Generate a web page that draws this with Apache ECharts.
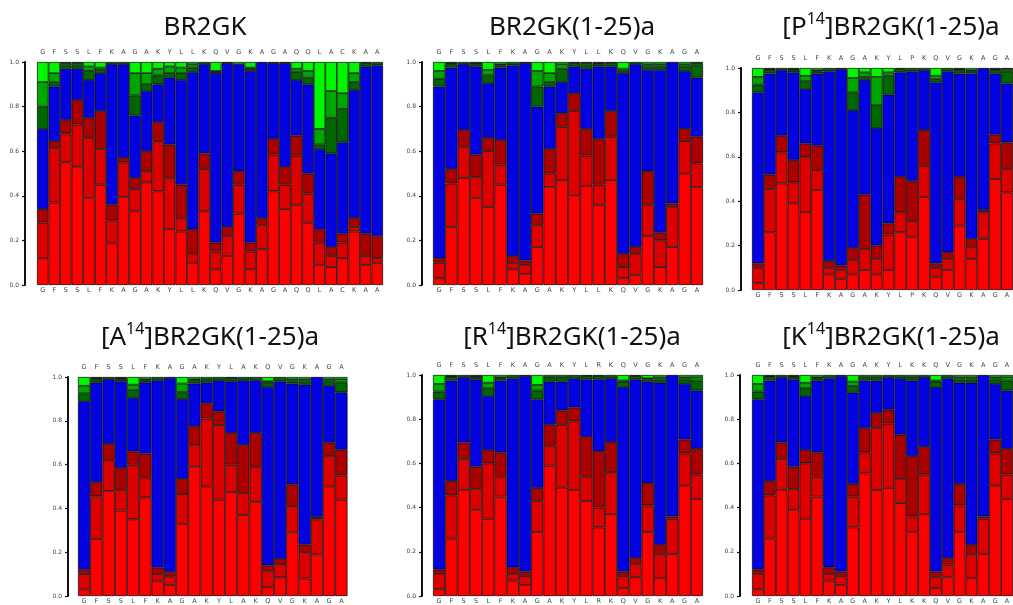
<!DOCTYPE html>
<html>
<head>
<meta charset="utf-8">
<script src="https://cdn.jsdelivr.net/npm/echarts@6/dist/echarts.min.js"></script>
<style>
html,body{margin:0;padding:0;background:#fff;}
#main{width:1013px;height:605px;}
</style>
</head>
<body>
<div id="main"></div>
<script>
// residue labels
var p1Letters = ['G','F','S','S','L','F','K','A','G','A','K','Y','L','L','K','Q','V','G','K','A','G','A','Q','Q','L','A','C','K','A','A'];
var p2Letters = ['G','F','S','S','L','F','K','A','G','A','K','Y','L','L','K','Q','V','G','K','A','G','A'];
var p3Letters = ['G','F','S','S','L','F','K','A','G','A','K','Y','L','P','K','Q','V','G','K','A','G','A'];
var p4Letters = ['G','F','S','S','L','F','K','A','G','A','K','Y','L','A','K','Q','V','G','K','A','G','A'];
var p5Letters = ['G','F','S','S','L','F','K','A','G','A','K','Y','L','R','K','Q','V','G','K','A','G','A'];
var p6Letters = ['G','F','S','S','L','F','K','A','G','A','K','Y','L','K','K','Q','V','G','K','A','G','A'];

var yTicks = [0, 0.2, 0.4, 0.6, 0.8, 1.0];

// per residue: cumulative tops of [red, mid red, dark red, blue, dark green, mid green], green fills to 1
var p1Cols = [
  [0.12,0.28,0.34,0.70,0.80,0.91],[0.37,0.615,0.645,0.89,0.91,0.95],[0.55,0.68,0.74,0.97,0.985,0.995],
  [0.53,0.72,0.83,0.97,0.985,0.995],[0.39,0.66,0.75,0.92,0.96,0.98],[0.45,0.61,0.78,0.95,0.965,0.975],
  [0.19,0.29,0.36,0.99,1,1],[0.395,0.55,0.57,0.99,1,1],[0.33,0.43,0.48,0.76,0.85,0.95],
  [0.46,0.51,0.60,0.87,0.90,0.95],[0.42,0.645,0.73,0.90,0.94,0.97],[0.25,0.48,0.63,0.93,0.95,0.98],
  [0.24,0.30,0.45,0.92,0.95,0.975],[0.10,0.14,0.25,0.955,0.975,0.99],[0.33,0.52,0.59,0.99,1,1],
  [0.07,0.15,0.19,0.95,0.955,0.96],[0.13,0.22,0.26,0.995,1,1],[0.32,0.45,0.51,0.99,0.99,0.99],
  [0.07,0.15,0.19,0.96,0.97,0.975],[0.16,0.27,0.30,1,1,1],[0.42,0.585,0.655,0.995,1,1],
  [0.34,0.45,0.53,0.995,1,1],[0.36,0.58,0.67,0.92,0.955,0.97],[0.28,0.41,0.50,0.90,0.93,0.96],
  [0.09,0.19,0.25,0.61,0.63,0.70],[0.08,0.13,0.17,0.59,0.75,0.87],[0.12,0.19,0.23,0.64,0.79,0.86],
  [0.24,0.26,0.30,0.875,0.91,0.95],[0.09,0.13,0.23,0.98,0.995,1],[0.10,0.12,0.22,0.985,1,1]
];

// first eight residues are the same in the five (1-25)a panels
var firstEight = [
  [0.03,0.10,0.12,0.89,0.925,0.96],[0.26,0.455,0.52,0.975,0.99,0.995],[0.48,0.62,0.695,0.99,1,1],
  [0.39,0.485,0.585,0.98,0.99,0.995],[0.35,0.60,0.66,0.905,0.94,0.965],[0.45,0.54,0.65,0.975,0.985,0.99],
  [0.07,0.10,0.13,0.985,1,1],[0.05,0.09,0.11,0.995,1,1]
];

var p2Rest = [
  [0.17,0.27,0.32,0.80,0.89,0.96],[0.44,0.50,0.61,0.89,0.91,0.95],[0.47,0.71,0.77,0.91,0.97,0.99],
  [0.40,0.78,0.86,0.98,0.995,1],[0.445,0.58,0.70,0.97,0.985,0.995],[0.36,0.45,0.655,0.98,0.99,0.995],
  [0.47,0.665,0.78,0.98,0.995,1],[0.03,0.08,0.14,0.95,0.96,0.97],[0.045,0.14,0.17,0.99,1,1],
  [0.22,0.36,0.51,0.965,0.98,0.99],[0.08,0.20,0.235,0.965,0.98,0.99],[0.17,0.35,0.366,1,1,1],
  [0.50,0.645,0.70,0.96,0.98,0.99],[0.44,0.545,0.665,0.93,0.985,0.995]
];
var p3Rest = [
  [0.07,0.135,0.19,0.81,0.89,0.955],[0.09,0.185,0.43,0.946,0.96,0.98],[0.07,0.14,0.20,0.73,0.833,0.96],
  [0.09,0.25,0.30,0.88,0.965,0.98],[0.26,0.35,0.51,0.98,0.995,1],[0.24,0.31,0.49,0.985,1,1],
  [0.42,0.56,0.72,0.99,1,1],[0.06,0.10,0.12,0.935,0.95,0.965],[0.09,0.14,0.17,0.985,1,1],
  [0.29,0.41,0.51,0.975,0.99,0.995],[0.14,0.195,0.23,0.975,0.985,0.99],[0.23,0.35,0.36,1,1,1],
  [0.50,0.66,0.70,0.975,0.99,0.995],[0.44,0.545,0.665,0.93,0.985,0.995]
];
var p4Rest = [
  [0.33,0.465,0.535,0.90,0.93,0.97],[0.59,0.69,0.775,0.97,0.985,0.99],[0.50,0.81,0.88,0.975,0.99,1],
  [0.44,0.78,0.843,0.985,1,1],[0.475,0.60,0.745,0.98,0.995,1],[0.37,0.47,0.69,0.985,1,1],
  [0.43,0.59,0.745,0.985,1,1],[0.04,0.115,0.14,0.955,0.975,0.98],[0.085,0.145,0.17,0.98,1,1],
  [0.29,0.41,0.51,0.97,0.98,0.99],[0.08,0.20,0.235,0.965,0.98,0.99],[0.19,0.35,0.36,1,1,1],
  [0.50,0.64,0.70,0.96,0.98,0.99],[0.44,0.55,0.668,0.93,0.975,0.99]
];
var p5Rest = [
  [0.29,0.43,0.488,0.89,0.93,0.955],[0.59,0.68,0.775,0.97,0.99,1],[0.49,0.775,0.84,0.97,0.99,1],
  [0.48,0.79,0.853,0.985,1,1],[0.43,0.54,0.72,0.98,0.995,1],[0.31,0.40,0.655,0.98,0.995,1],
  [0.37,0.56,0.696,0.985,1,1],[0.035,0.09,0.11,0.945,0.97,0.975],[0.085,0.145,0.172,0.98,0.995,1],
  [0.29,0.41,0.51,0.97,0.98,0.985],[0.08,0.19,0.232,0.965,0.98,0.99],[0.19,0.35,0.36,1,1,1],
  [0.50,0.645,0.708,0.96,0.98,0.99],[0.44,0.55,0.666,0.93,0.975,0.99]
];
var p6Rest = [
  [0.31,0.45,0.506,0.92,0.95,0.97],[0.555,0.65,0.76,0.975,0.99,1],[0.48,0.76,0.828,0.975,0.99,1],
  [0.49,0.78,0.843,0.99,1,1],[0.42,0.53,0.73,0.985,1,1],[0.29,0.36,0.633,0.975,0.99,1],
  [0.37,0.55,0.675,0.99,1,1],[0.035,0.087,0.11,0.945,0.97,0.975],[0.087,0.142,0.172,0.985,1,1],
  [0.29,0.41,0.506,0.965,0.98,0.99],[0.08,0.19,0.232,0.965,0.98,0.99],[0.19,0.35,0.36,1,1,1],
  [0.50,0.645,0.708,0.96,0.98,0.99],[0.44,0.55,0.666,0.93,0.975,0.99]
];

var layerColors = ['#ff0000','#dd0000','#aa0000','#0303e2','#006600','#00a600','#00f500'];

var panels = [
  {title:'{n|BR2GK}', letters:p1Letters, cols:p1Cols, tx:200, ty:6, grid:{left:37, top:62, width:346, height:223}, off:12},
  {title:'{n|BR2GK(1-25)a}', letters:p2Letters, cols:firstEight.concat(p2Rest), tx:567, ty:6, grid:{left:433, top:62, width:270, height:223}, off:11},
  {title:'{n|[P}{s|14}{n|]BR2GK(1-25)a}', letters:p3Letters, cols:firstEight.concat(p3Rest), tx:886, ty:6, grid:{left:752, top:68, width:268.5, height:222}, off:11},
  {title:'{n|[A}{s|14}{n|]BR2GK(1-25)a}', letters:p4Letters, cols:firstEight.concat(p4Rest), tx:205, ty:316, grid:{left:78, top:377, width:269.5, height:222.5}, off:10},
  {title:'{n|[R}{s|14}{n|]BR2GK(1-25)a}', letters:p5Letters, cols:firstEight.concat(p5Rest), tx:567, ty:316, grid:{left:433, top:375, width:270, height:222.7}, off:11},
  {title:'{n|[K}{s|14}{n|]BR2GK(1-25)a}', letters:p6Letters, cols:firstEight.concat(p6Rest), tx:886, ty:316, grid:{left:752, top:375, width:268.5, height:222.7}, off:12}
];

var chart = echarts.init(document.getElementById('main'), null, {renderer:'canvas'});

var titles = [], grids = [], xAxes = [], yAxes = [], series = [];
var letterStyle = {fontSize:6.5, color:'#444', fontFamily:'DejaVu Sans'};

panels.forEach(function(p, gi){
  titles.push({
    text: p.title, left: p.tx, top: p.ty, textAlign: 'center',
    textStyle: {
      fontWeight:'normal',
      rich: {
        n: {fontSize:26, fontFamily:'Noto Sans', fontWeight:'normal', color:'#111', lineHeight:34},
        s: {fontSize:16, fontFamily:'Noto Sans', fontWeight:'normal', color:'#111', lineHeight:34, verticalAlign:'top', padding:[0,0,11,0]}
      }
    }
  });
  grids.push(p.grid);
  xAxes.push({
    type:'category', gridIndex:gi, position:'bottom', data:p.letters,
    axisLine:{show:false}, axisTick:{show:false},
    axisLabel:Object.assign({margin:2, interval:0}, letterStyle)
  });
  xAxes.push({
    type:'category', gridIndex:gi, position:'top', data:p.letters,
    axisLine:{show:false}, axisTick:{show:false},
    axisLabel:Object.assign({margin:6, interval:0}, letterStyle)
  });
  yAxes.push({
    type:'value', gridIndex:gi, min:0, max:1, interval:0.2, offset:p.off,
    splitLine:{show:false},
    axisLine:{show:true, lineStyle:{color:'#111', width:2}},
    axisTick:{show:true, length:3, lineStyle:{color:'#111', width:1.2}},
    axisLabel:{margin:6, fontSize:6, color:'#444', fontFamily:'DejaVu Sans',
      formatter:function(v){ return v.toFixed(1); }}
  });
  for (var k = 0; k < 7; k++) {
    var data = p.cols.map(function(c){
      var lo = k === 0 ? 0 : c[k-1];
      var hi = k === 6 ? 1 : c[k];
      var v = +(hi - lo).toFixed(4);
      return v > 0 ? v : '-';
    });
    series.push({
      type:'bar', xAxisIndex:gi*2, yAxisIndex:gi, stack:'s'+gi,
      barCategoryGap:'0%', data:data, silent:true,
      itemStyle:{color:layerColors[k], borderColor:'#000', borderWidth:0.7}
    });
  }
});

chart.setOption({
  animation:false,
  backgroundColor:'#fff',
  title:titles,
  grid:grids,
  xAxis:xAxes,
  yAxis:yAxes,
  series:series
});
</script>
</body>
</html>
